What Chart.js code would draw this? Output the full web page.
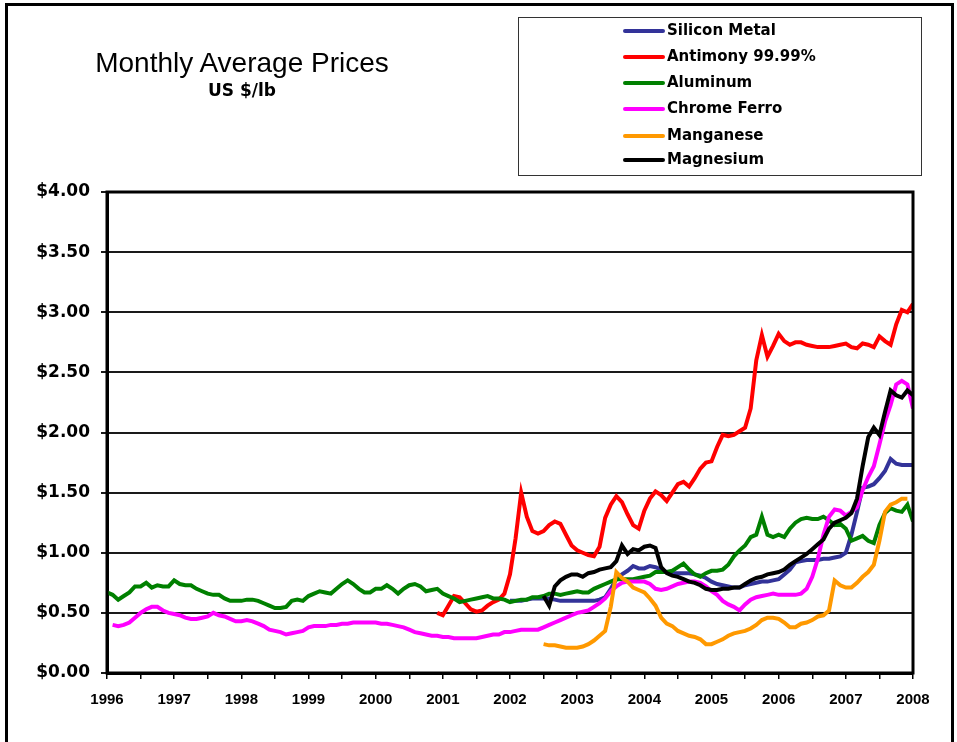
<!DOCTYPE html>
<html>
<head>
<meta charset="utf-8">
<script src="https://cdn.jsdelivr.net/npm/chart.js@4"></script>
<style>
  body { margin: 0; background: #fff; }
  #wrap { position: relative; width: 957px; height: 742px; overflow: hidden; background: #fff; }
  #frame { position: absolute; left: 5px; top: 3px; width: 943px; height: 800px; border: 3px solid #000; border-bottom: none; }
  canvas { position: absolute; left: 0; top: 0; }
  .title { position: absolute; left: 0; width: 484px; text-align: center; color: #000; }
  #t1 { top: 49px; font: 28px "Liberation Sans", Arial, sans-serif; line-height: 28px; }
  #t2 { top: 82px; font: bold 17px "DejaVu Sans", sans-serif; line-height: 17px; }
  #legend { position: absolute; left: 518px; top: 17px; width: 402px; height: 157px; border: 1.5px solid #333; }
  .row { position: absolute; left: 0; height: 20px; line-height: 20px; font: bold 15px "DejaVu Sans", sans-serif; color: #000; }
  .row i { position: absolute; left: 104px; top: 8px; width: 42px; height: 4px; border-radius: 2px; }
  .row span { position: absolute; left: 148px; white-space: nowrap; }
</style>
</head>
<body>
<div id="wrap">
  <div id="frame"></div>
  <canvas id="c" width="957" height="742"></canvas>
  <div class="title" id="t1">Monthly Average Prices</div>
  <div class="title" id="t2">US $/lb</div>
  <div id="legend"></div>
</div>
<script>
// monthly averages, US $/lb (first value at the start month)
const siliconStart = 2002;
const silicon = [
  0.60, 0.60, 0.60, 0.61, 0.62, 0.62, 0.62, 0.62, 0.61, 0.60, 0.60, 0.60,
  0.60, 0.60, 0.60, 0.60, 0.61, 0.63, 0.70, 0.78, 0.82, 0.85, 0.89, 0.87,
  0.87, 0.89, 0.88, 0.86, 0.84, 0.83, 0.83, 0.83, 0.83, 0.82, 0.81, 0.79,
  0.76, 0.74, 0.73, 0.72, 0.71, 0.71, 0.73, 0.74, 0.75, 0.76, 0.76, 0.77,
  0.78, 0.82, 0.86, 0.92, 0.93, 0.94, 0.94, 0.94, 0.95, 0.95, 0.96, 0.97,
  1.00, 1.15, 1.34, 1.54, 1.55, 1.57, 1.62, 1.68, 1.78, 1.74, 1.73, 1.73,
  1.73
];

const antimonyStart = 2000 + 11 / 12;
const antimony = [
  0.50,
  0.48, 0.56, 0.64, 0.63, 0.58, 0.53, 0.51, 0.52, 0.56, 0.59, 0.61, 0.66,
  0.82, 1.12, 1.50, 1.30, 1.18, 1.16, 1.18, 1.23, 1.26, 1.24, 1.15, 1.06,
  1.02, 1.00, 0.98, 0.97, 1.05, 1.29, 1.40, 1.47, 1.42, 1.32, 1.23, 1.20,
  1.35, 1.45, 1.51, 1.48, 1.43, 1.50, 1.57, 1.59, 1.55, 1.62, 1.70, 1.75,
  1.76, 1.88, 1.98, 1.97, 1.98, 2.01, 2.04, 2.20, 2.60, 2.81, 2.63, 2.72,
  2.82, 2.76, 2.73, 2.75, 2.75, 2.73, 2.72, 2.71, 2.71, 2.71, 2.72, 2.73,
  2.74, 2.71, 2.70, 2.74, 2.73, 2.71, 2.80, 2.76, 2.73, 2.90, 3.02, 3.00,
  3.07
];

const aluminumStart = 1996;
const aluminum = [
  0.67, 0.65, 0.61, 0.64, 0.67, 0.72, 0.72, 0.75, 0.71, 0.73, 0.72, 0.72,
  0.77, 0.74, 0.73, 0.73, 0.70, 0.68, 0.66, 0.65, 0.65, 0.62, 0.60, 0.60,
  0.60, 0.61, 0.61, 0.60, 0.58, 0.56, 0.54, 0.54, 0.55, 0.60, 0.61, 0.60,
  0.64, 0.66, 0.68, 0.67, 0.66, 0.70, 0.74, 0.77, 0.74, 0.70, 0.67, 0.67,
  0.70, 0.70, 0.73, 0.70, 0.66, 0.70, 0.73, 0.74, 0.72, 0.68, 0.69, 0.70,
  0.66, 0.64, 0.62, 0.59, 0.60, 0.61, 0.62, 0.63, 0.64, 0.62, 0.62, 0.61,
  0.59, 0.60, 0.61, 0.61, 0.63, 0.63, 0.64, 0.66, 0.66, 0.65, 0.66, 0.67,
  0.68, 0.67, 0.67, 0.70, 0.72, 0.74, 0.76, 0.78, 0.78, 0.78, 0.78, 0.79,
  0.80, 0.81, 0.84, 0.84, 0.84, 0.85, 0.88, 0.91, 0.86, 0.82, 0.80, 0.83,
  0.85, 0.85, 0.86, 0.90, 0.97, 1.02, 1.06, 1.13, 1.15, 1.30, 1.15, 1.13,
  1.15, 1.13, 1.20, 1.25, 1.28, 1.29, 1.28, 1.28, 1.30, 1.27, 1.23, 1.24,
  1.20, 1.10, 1.12, 1.14, 1.10, 1.08, 1.23, 1.33, 1.37, 1.35, 1.34, 1.40,
  1.26
];

const chromeStart = 1996 + 1 / 12;
const chrome = [
  0.40, 0.39, 0.40, 0.42, 0.46, 0.50, 0.53, 0.55, 0.55, 0.52, 0.50,
  0.49, 0.48, 0.46, 0.45, 0.45, 0.46, 0.47, 0.50, 0.48, 0.47, 0.45, 0.43,
  0.43, 0.44, 0.43, 0.41, 0.39, 0.36, 0.35, 0.34, 0.32, 0.33, 0.34, 0.35,
  0.38, 0.39, 0.39, 0.39, 0.40, 0.40, 0.41, 0.41, 0.42, 0.42, 0.42, 0.42,
  0.42, 0.41, 0.41, 0.40, 0.39, 0.38, 0.36, 0.34, 0.33, 0.32, 0.31, 0.31,
  0.30, 0.30, 0.29, 0.29, 0.29, 0.29, 0.29, 0.30, 0.31, 0.32, 0.32, 0.34,
  0.34, 0.35, 0.36, 0.36, 0.36, 0.36, 0.38, 0.40, 0.42, 0.44, 0.46, 0.48,
  0.50, 0.51, 0.52, 0.55, 0.58, 0.62, 0.68, 0.72, 0.75, 0.76, 0.76, 0.76,
  0.76, 0.74, 0.70, 0.69, 0.70, 0.72, 0.74, 0.75, 0.76, 0.76, 0.75, 0.72,
  0.68, 0.65, 0.60, 0.57, 0.55, 0.52, 0.57, 0.61, 0.63, 0.64, 0.65, 0.66,
  0.65, 0.65, 0.65, 0.65, 0.66, 0.70, 0.80, 0.95, 1.15, 1.30, 1.36, 1.35,
  1.31, 1.34, 1.38, 1.52, 1.63, 1.72, 1.90, 2.09, 2.23, 2.40, 2.43, 2.40,
  2.20
];

const manganeseStart = 2002 + 6 / 12;
const manganese = [
  0.24, 0.23, 0.23, 0.22, 0.21, 0.21,
  0.21, 0.22, 0.24, 0.27, 0.31, 0.35, 0.55, 0.84, 0.79, 0.76, 0.71, 0.69,
  0.67, 0.62, 0.56, 0.46, 0.41, 0.39, 0.35, 0.33, 0.31, 0.30, 0.28, 0.24,
  0.24, 0.26, 0.28, 0.31, 0.33, 0.34, 0.35, 0.37, 0.40, 0.44, 0.46, 0.46,
  0.45, 0.42, 0.38, 0.38, 0.41, 0.42, 0.44, 0.47, 0.48, 0.52, 0.77, 0.73,
  0.71, 0.71, 0.75, 0.80, 0.84, 0.90, 1.10, 1.34, 1.40, 1.42, 1.45, 1.45
];

const magnesiumStart = 2002 + 6 / 12;
const magnesium = [
  0.64, 0.56, 0.72, 0.77, 0.80, 0.82,
  0.82, 0.80, 0.83, 0.84, 0.86, 0.87, 0.88, 0.93, 1.06, 0.99, 1.03, 1.02,
  1.05, 1.06, 1.04, 0.88, 0.83, 0.81, 0.80, 0.78, 0.76, 0.75, 0.73, 0.70,
  0.69, 0.69, 0.70, 0.70, 0.71, 0.71, 0.74, 0.77, 0.79, 0.80, 0.82, 0.83,
  0.84, 0.86, 0.90, 0.93, 0.96, 0.99, 1.03, 1.07, 1.11, 1.20, 1.25, 1.27,
  1.29, 1.33, 1.45, 1.72, 1.96, 2.04, 1.98, 2.17, 2.35, 2.31, 2.29, 2.35,
  2.31
];

const series = [
  { label: 'Silicon Metal', color: '#333399', start: siliconStart, values: silicon },
  { label: 'Antimony 99.99%', color: '#ff0000', start: antimonyStart, values: antimony },
  { label: 'Aluminum', color: '#008000', start: aluminumStart, values: aluminum },
  { label: 'Chrome Ferro', color: '#ff00ff', start: chromeStart, values: chrome },
  { label: 'Manganese', color: '#ff9900', start: manganeseStart, values: manganese },
  { label: 'Magnesium', color: '#000000', start: magnesiumStart, values: magnesium }
];

const yearMin = 1996;
const yearMax = 2008;

// legend box (HTML, top right)
const legendRowsY = [30, 56, 82, 108, 135, 159];
const legendEl = document.getElementById('legend');
series.forEach((s, i) => {
  const row = document.createElement('div');
  row.className = 'row';
  row.style.top = (legendRowsY[i] - 17 - 10) + 'px';
  row.innerHTML = '<i style="background:' + s.color + '"></i><span>' + s.label + '</span>';
  legendEl.appendChild(row);
});

const plotFrame = {
  id: 'plotFrame',
  afterDraw(chart) {
    const a = chart.chartArea;
    const ctx = chart.ctx;
    ctx.save();
    ctx.strokeStyle = '#000';
    ctx.lineWidth = 3;
    ctx.strokeRect(a.left, a.top, a.right - a.left, a.bottom - a.top);
    ctx.restore();
  }
};

new Chart(document.getElementById('c'), {
  type: 'line',
  data: {
    datasets: series.map((s, i) => ({
      label: s.label,
      data: s.values.map((v, k) => ({ x: s.start + k / 12, y: v })),
      borderColor: s.color,
      backgroundColor: s.color,
      borderWidth: 4,
      pointRadius: 0,
      tension: 0,
      fill: false,
      order: series.length - i
    }))
  },
  options: {
    responsive: false,
    animation: false,
    layout: { padding: { top: 192, right: 44, bottom: 0, left: 0 } },
    plugins: {
      legend: { display: false },
      tooltip: { enabled: false }
    },
    scales: {
      x: {
        type: 'linear',
        min: yearMin,
        max: yearMax,
        afterFit: (scale) => { scale.height = 69; },
        afterBuildTicks: (scale) => {
          scale.ticks = scale.ticks.filter(t => Math.abs(t.value * 2 - Math.round(t.value * 2)) < 1e-6);
        },
        ticks: {
          stepSize: 0.5,
          autoSkip: false,
          maxRotation: 0,
          padding: 12,
          color: '#000',
          font: { family: 'Liberation Sans', weight: 'bold', size: 15 },
          callback: (v) => Number.isInteger(v) ? String(v) : ''
        },
        grid: { drawOnChartArea: false, drawTicks: true, tickLength: 6, color: '#000', lineWidth: 1.5 },
        border: { color: '#000', width: 3 }
      },
      y: {
        min: 0,
        max: 4,
        afterFit: (scale) => { scale.width = 107; },
        ticks: {
          stepSize: 0.5,
          padding: 11,
          color: '#000',
          font: { family: 'DejaVu Sans', weight: 'bold', size: 17 },
          callback: (v) => '$' + v.toFixed(2)
        },
        grid: { color: '#1a1a1a', lineWidth: 2, tickLength: 6 },
        border: { color: '#000', width: 3 }
      }
    }
  },
  plugins: [plotFrame]
});
</script>
</body>
</html>
